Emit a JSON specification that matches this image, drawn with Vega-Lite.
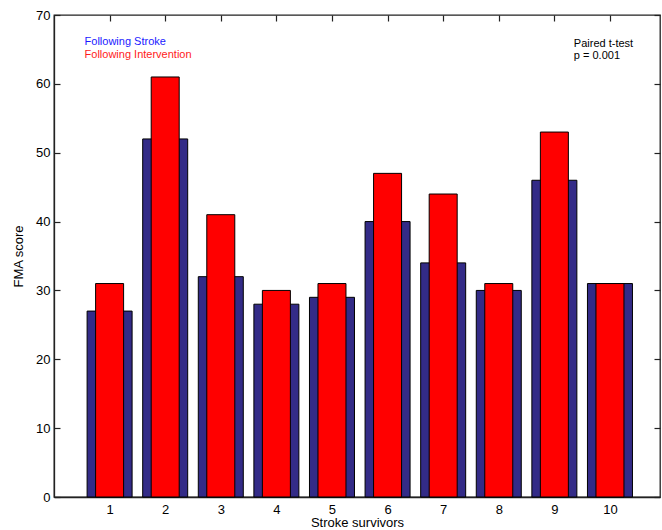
{
  "$schema": "https://vega.github.io/schema/vega-lite/v6.json",
  "width": 606,
  "height": 482,
  "autosize": {"type": "none"},
  "padding": {"left": 54, "top": 15, "right": 2, "bottom": 33},
  "background": "white",
  "config": {
    "font": "Liberation Sans",
    "view": {"stroke": "#222222", "strokeWidth": 1.3},
    "axis": {
      "grid": false,
      "domainColor": "#222222",
      "domainWidth": 1.3,
      "tickColor": "#222222",
      "tickWidth": 1.2,
      "labelColor": "black",
      "titleColor": "black",
      "labelFont": "Liberation Sans",
      "titleFont": "Liberation Sans",
      "labelFontSize": 13,
      "titleFontSize": 13,
      "titleFontWeight": "normal",
      "tickSize": -6,
      "labelPadding": 10
    }
  },
  "data": {
    "values": [
      {"survivor": 1, "stroke": 27, "intervention": 31},
      {"survivor": 2, "stroke": 52, "intervention": 61},
      {"survivor": 3, "stroke": 32, "intervention": 41},
      {"survivor": 4, "stroke": 28, "intervention": 30},
      {"survivor": 5, "stroke": 29, "intervention": 31},
      {"survivor": 6, "stroke": 40, "intervention": 47},
      {"survivor": 7, "stroke": 34, "intervention": 44},
      {"survivor": 8, "stroke": 30, "intervention": 31},
      {"survivor": 9, "stroke": 46, "intervention": 53},
      {"survivor": 10, "stroke": 31, "intervention": 31}
    ]
  },
  "resolve": {"scale": {"x": "independent", "y": "independent"}, "axis": {"x": "independent", "y": "independent"}},
  "layer": [
    {
      "mark": {"type": "bar", "width": 45, "color": "#332b87", "stroke": "black", "strokeWidth": 1},
      "encoding": {
        "x": {"field": "survivor", "type": "quantitative", "scale": {"domain": [0, 10.9], "nice": false, "zero": false, "padding": 0},
              "axis": {"values": [1,2,3,4,5,6,7,8,9,10], "format": "d", "title": "Stroke survivors", "titlePadding": 0, "labelPadding": 12}},
        "y": {"field": "stroke", "type": "quantitative", "scale": {"domain": [0, 70], "nice": false},
              "axis": {"values": [0,10,20,30,40,50,60,70], "title": "FMA score", "titlePadding": 10}}
      }
    },
    {
      "mark": {"type": "bar", "width": 28, "color": "#ff0000", "stroke": "black", "strokeWidth": 1},
      "encoding": {
        "x": {"field": "survivor", "type": "quantitative", "scale": {"domain": [0, 10.9], "nice": false, "zero": false, "padding": 0}, "axis": null},
        "y": {"field": "intervention", "type": "quantitative", "scale": {"domain": [0, 70], "nice": false}, "axis": null}
      }
    },
    {
      "mark": {"type": "point", "opacity": 0},
      "encoding": {
        "x": {"field": "survivor", "type": "quantitative", "scale": {"domain": [0, 10.9], "nice": false, "zero": false, "padding": 0},
              "axis": {"orient": "top", "values": [1,2,3,4,5,6,7,8,9,10], "labels": false, "title": null, "domain": false}},
        "y": {"field": "stroke", "type": "quantitative", "scale": {"domain": [0, 70], "nice": false},
              "axis": {"orient": "right", "values": [0,10,20,30,40,50,60,70], "labels": false, "title": null, "domain": false}}
      }
    },
    {
      "data": {"values": [{"label": "Following Stroke"}]},
      "mark": {"type": "text", "align": "left", "baseline": "middle", "fontSize": 11, "color": "#1a1aff"},
      "encoding": {
        "x": {"datum": 0.55, "type": "quantitative", "scale": {"domain": [0, 10.9], "nice": false, "zero": false, "padding": 0}, "axis": null},
        "y": {"datum": 66.1, "type": "quantitative", "scale": {"domain": [0, 70], "nice": false}, "axis": null},
        "text": {"field": "label"}
      }
    },
    {
      "data": {"values": [{"label": "Following Intervention"}]},
      "mark": {"type": "text", "align": "left", "baseline": "middle", "fontSize": 11, "color": "#ff1a1a"},
      "encoding": {
        "x": {"datum": 0.55, "type": "quantitative", "scale": {"domain": [0, 10.9], "nice": false, "zero": false, "padding": 0}, "axis": null},
        "y": {"datum": 64.2, "type": "quantitative", "scale": {"domain": [0, 70], "nice": false}, "axis": null},
        "text": {"field": "label"}
      }
    },
    {
      "data": {"values": [{"label": "Paired t-test"}]},
      "mark": {"type": "text", "align": "left", "baseline": "middle", "fontSize": 11, "color": "black"},
      "encoding": {
        "x": {"datum": 9.35, "type": "quantitative", "scale": {"domain": [0, 10.9], "nice": false, "zero": false, "padding": 0}, "axis": null},
        "y": {"datum": 65.8, "type": "quantitative", "scale": {"domain": [0, 70], "nice": false}, "axis": null},
        "text": {"field": "label"}
      }
    },
    {
      "data": {"values": [{"label": "p = 0.001"}]},
      "mark": {"type": "text", "align": "left", "baseline": "middle", "fontSize": 11, "color": "black"},
      "encoding": {
        "x": {"datum": 9.35, "type": "quantitative", "scale": {"domain": [0, 10.9], "nice": false, "zero": false, "padding": 0}, "axis": null},
        "y": {"datum": 64.1, "type": "quantitative", "scale": {"domain": [0, 70], "nice": false}, "axis": null},
        "text": {"field": "label"}
      }
    }
  ]
}
